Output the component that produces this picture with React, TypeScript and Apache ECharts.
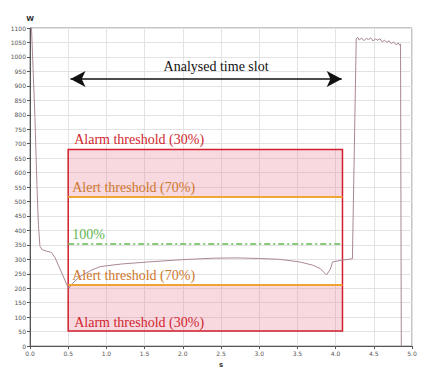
import React, { useEffect, useRef } from "react";
import * as echarts from "echarts";

// Power signal (time in s, power in W)
const signalTime = [
  0.0, 0.02, 0.04, 0.065, 0.09, 0.11, 0.13, 0.16, 0.22, 0.28, 0.33, 0.37, 0.43, 0.49, 0.51,
  0.56, 0.65, 0.8, 0.92, 1.2, 1.55, 2.0, 2.4, 2.7, 3.0, 3.27, 3.53, 3.7, 3.8, 3.88, 3.93,
  3.96, 4.08, 4.22, 4.27, 4.29, 4.31, 4.34, 4.37, 4.4, 4.43, 4.46, 4.49, 4.52, 4.55, 4.58,
  4.61, 4.64, 4.67, 4.7, 4.73, 4.76, 4.79, 4.82, 4.84, 4.85, 4.86,
];
const signalWatts = [
  1100, 1100, 960, 790, 560, 420, 345, 333, 328, 324, 305, 280, 245, 207, 200,
  218, 240, 262, 275, 284, 291, 299, 304, 305, 303, 300, 291, 280, 268, 246, 265,
  291, 297, 302, 1062, 1068, 1058, 1066, 1056, 1064, 1060, 1066, 1055, 1062, 1058, 1063,
  1052, 1058, 1050, 1056, 1046, 1052, 1042, 1048, 1040, 1045, 0,
];

// Analysed time slot and thresholds
const slotStart = 0.5;
const slotEnd = 4.09;
const arrowLevel = 924;
const alarmHigh = 680;
const alertHigh = 518;
const nominal = 354;
const alertLow = 212;
const alarmLow = 52;

const labels = {
  slot: "Analysed time slot",
  alarm: "Alarm threshold (30%)",
  alert: "Alert threshold (70%)",
  nominal: "100%",
};

const RED = "#d11f2e";
const ORANGE = "#eea534";
const ORANGE_TEXT = "#cf772c";
const GREEN = "#62b852";
const PINK = "rgba(228,128,150,0.3)";
const SERIF = "Liberation Serif";

export default function App() {
  const ref = useRef<HTMLDivElement>(null);
  useEffect(() => {
    if (!ref.current) return;
    const chart = echarts.init(ref.current, null, { renderer: "svg" });
    const serifLabel = (color: string) => ({
      show: true,
      color,
      fontFamily: SERIF,
      fontSize: 14,
    });
    chart.setOption({
      animation: false,
      backgroundColor: "#ffffff",
      grid: {
        left: 30,
        right: 23,
        top: 28,
        bottom: 20,
        show: true,
        borderColor: "#8a8a8a",
        borderWidth: 1,
      },
      xAxis: {
        type: "value",
        min: 0,
        max: 5,
        interval: 0.5,
        name: "s",
        nameLocation: "middle",
        nameGap: 13,
        nameTextStyle: { fontSize: 7, fontWeight: "bold", color: "#333", fontFamily: "DejaVu Sans" },
        axisLine: { lineStyle: { color: "#555", width: 1 } },
        axisTick: { show: true, length: 3, lineStyle: { color: "#555" } },
        axisLabel: {
          fontSize: 6,
          color: "#555",
          margin: 4,
          fontFamily: "DejaVu Sans",
          formatter: (v: number) => v.toFixed(1),
        },
        splitLine: { show: true, lineStyle: { color: "#e3e3e3", width: 1 } },
      },
      yAxis: {
        type: "value",
        min: 0,
        max: 1100,
        interval: 50,
        name: "W",
        nameLocation: "end",
        nameGap: 6,
        nameTextStyle: { fontSize: 7, fontWeight: "bold", color: "#333", fontFamily: "DejaVu Sans", align: "center" },
        axisLine: { show: true, lineStyle: { color: "#555", width: 1 } },
        axisTick: { show: true, length: 3, lineStyle: { color: "#555" } },
        axisLabel: {
          fontSize: 6,
          color: "#555",
          margin: 4,
          fontFamily: "DejaVu Sans",
          formatter: (v: number) => String(v),
        },
        splitLine: { show: true, lineStyle: { color: "#e3e3e3", width: 1 } },
      },
      series: [
        {
          type: "line",
          data: signalTime.map((t, i) => [t, signalWatts[i]]),
          symbol: "none",
          lineStyle: { color: "#a98797", width: 1 },
          z: 3,
          markArea: {
            silent: true,
            data: [
              [
                {
                  coord: [slotStart, alertHigh],
                  itemStyle: { color: PINK },
                  label: { ...serifLabel(RED), position: "insideTopLeft", offset: [1, -22] },
                  name: labels.alarm,
                },
                { coord: [slotEnd, alarmHigh] },
              ],
              [
                {
                  coord: [slotStart, alarmLow],
                  itemStyle: { color: PINK },
                  label: { ...serifLabel(RED), position: "insideBottomLeft", offset: [1, 3] },
                  name: labels.alarm,
                },
                { coord: [slotEnd, alertLow] },
              ],
              [
                {
                  coord: [slotStart, alarmLow],
                  itemStyle: { color: "rgba(0,0,0,0)", borderColor: RED, borderWidth: 1.5 },
                  label: { show: false },
                },
                { coord: [slotEnd, alarmHigh] },
              ],
            ],
          },
          markLine: {
            silent: true,
            symbol: "none",
            data: [
              [
                {
                  coord: [slotStart, alertHigh],
                  lineStyle: { color: ORANGE, width: 2, type: "solid" },
                  label: { ...serifLabel(ORANGE_TEXT), position: "insideStartTop", distance: [4, 2], formatter: labels.alert },
                },
                { coord: [slotEnd, alertHigh] },
              ],
              [
                {
                  coord: [slotStart, alertLow],
                  lineStyle: { color: ORANGE, width: 2, type: "solid" },
                  label: { ...serifLabel(ORANGE_TEXT), position: "insideStartTop", distance: [4, 2], formatter: labels.alert },
                },
                { coord: [slotEnd, alertLow] },
              ],
              [
                {
                  coord: [slotStart, nominal],
                  lineStyle: { color: GREEN, width: 1.5, type: [6, 3, 2, 3] },
                  label: { ...serifLabel(GREEN), position: "insideStartTop", distance: [4, 2], formatter: labels.nominal },
                },
                { coord: [slotEnd, nominal] },
              ],
              [
                {
                  coord: [slotStart + 0.03, arrowLevel],
                  symbol: "arrow",
                  symbolSize: [12, 15],
                  lineStyle: { color: "#111", width: 1.5, type: "solid" },
                  label: { ...serifLabel("#111"), position: "middle", distance: 5, offset: [10, 0], formatter: labels.slot },
                },
                { coord: [slotEnd - 0.01, arrowLevel], symbol: "arrow", symbolSize: [12, 15] },
              ],
            ],
          },
        },
      ],
    });
    return () => chart.dispose();
  }, []);
  return (
    <div
      ref={ref}
      style={{ position: "fixed", left: 0, top: 0, width: 435, height: 373, background: "#fff" }}
    />
  );
}
